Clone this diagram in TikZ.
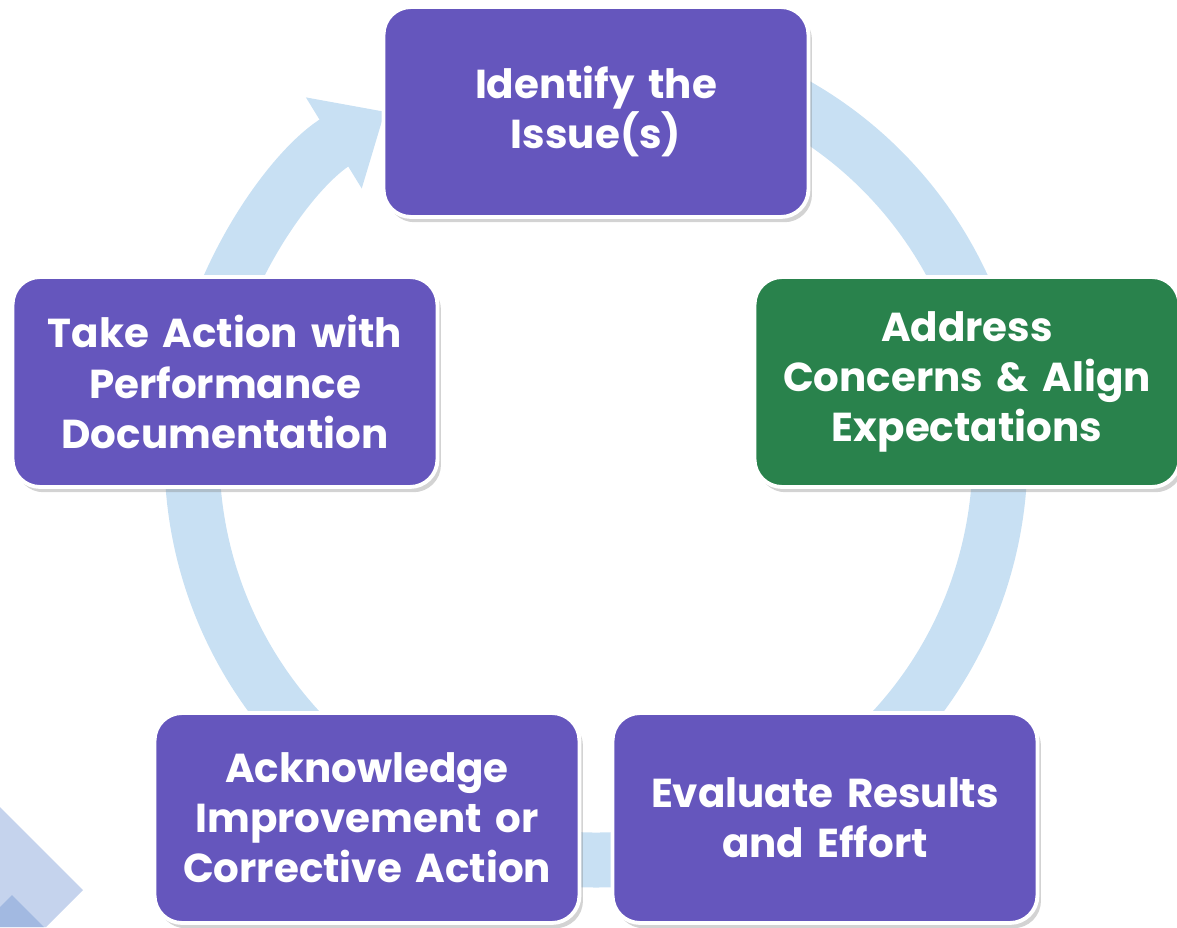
\documentclass[tikz,border=0pt]{standalone}
\usepackage{fontspec}
\setmainfont{Poppins}
\usetikzlibrary{arrows.meta,shadows}
\definecolor{StepPurple}{RGB}{101,86,189}
\definecolor{StepGreen}{RGB}{41,130,76}
\definecolor{RingBlue}{RGB}{200,224,243}
\definecolor{TileLight}{RGB}{197,211,237}
\definecolor{TileDark}{RGB}{162,185,225}

\begin{document}
\begin{tikzpicture}[x=0.02cm,y=0.02cm,
stepbox/.style={draw=white,line width=2.2pt,fill=StepPurple,rounded corners=0.55cm,minimum width=8.5cm,minimum height=4.2cm,text width=8.2cm,align=center,text=white,font=\bfseries\fontsize{23}{28.5}\selectfont,drop shadow={opacity=0.35,shadow xshift=2pt,shadow yshift=-3pt}},
ring/.style={line width=1.1cm,draw=RingBlue}
]
\useasboundingbox (0,0) rectangle (1177,927);
% corner tiles
\fill[TileLight] (0,120) -- (83,37) -- (46,0) -- (0,0) -- cycle;
\fill[TileDark] (0,20) -- (12,32) -- (44,0) -- (0,0) -- cycle;
% cycle ring with its head
\coordinate (hub) at (596,471);
\draw[ring,-{Triangle[width=2.06cm,length=1.2cm]}] (hub) ++(75:8.08cm) arc[start angle=75,end angle=-238.5,radius=8.08cm];
% steps
\node[stepbox] (issue) at (596,815) {Identify the\\Issue(s)};
\node[stepbox,fill=StepGreen] (address) at (967,545) {Address\\Concerns \& Align\\Expectations};
\node[stepbox] (evaluate) at (825,109) {Evaluate Results\\and Effort};
\node[stepbox] (acknowledge) at (367,109) {Acknowledge\\Improvement or\\Corrective Action};
\node[stepbox] (action) at (225,545) {Take Action with\\Performance\\Documentation};
\end{tikzpicture}
\end{document}
